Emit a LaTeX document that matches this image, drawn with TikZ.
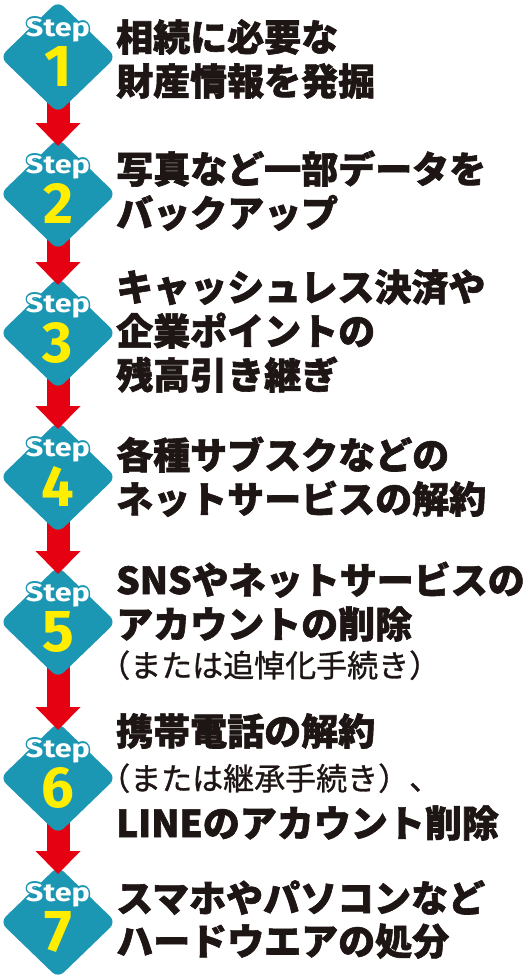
\documentclass[tikz,border=0pt]{standalone}
\usepackage{fontspec}
\usepackage{graphicx}
\usetikzlibrary{shapes.geometric,calc}
\newfontfamily\jp{Noto Sans CJK JP}[BoldFeatures={FakeBold=1.6}]
\newfontfamily\jpsub{Noto Sans CJK JP}[FakeBold=1.0]
\newfontfamily\fira{Fira Sans}
\definecolor{diateal}{RGB}{28,151,179}
\definecolor{arrowred}{RGB}{229,0,18}
\definecolor{numyellow}{RGB}{255,238,0}
\definecolor{ink}{RGB}{30,22,20}
\pgfdeclarelayer{bg}
\pgfsetlayers{bg,main}
\tikzset{
  dia/.style={shape=diamond, fill=diateal, draw=none, minimum width=116pt, minimum height=112pt, inner sep=0pt, rounded corners=8pt},
  steplbl/.style={anchor=base, inner sep=0pt, text=white, font=\fira\bfseries},
  numlbl/.style={anchor=base, inner sep=0pt, text=numyellow, font=\fira\bfseries},
  jtext/.style={anchor=base west, inner sep=0pt, text=ink, font=\jp\bfseries\fontsize{37pt}{44pt}\selectfont},
  jsub/.style={anchor=base west, inner sep=0pt, text=ink, font=\jpsub\fontsize{31pt}{36pt}\selectfont}
}
\newcommand\stepword{\resizebox{64pt}{18pt}{Step}}
\newcommand\shiftedstep[2]{\kern#1\makebox[0pt]{\raisebox{#2}{\stepword}}\kern-#1}
\newcommand\outlinedstep{%
  {\color{diateal}%
   \shiftedstep{1.4pt}{0pt}\shiftedstep{-1.4pt}{0pt}%
   \shiftedstep{0pt}{1.4pt}\shiftedstep{0pt}{-1.4pt}%
   \shiftedstep{1pt}{1pt}\shiftedstep{-1pt}{1pt}%
   \shiftedstep{1pt}{-1pt}\shiftedstep{-1pt}{-1pt}}%
  \makebox[0pt]{\stepword}}
\newcommand\stepdia[2]{%
  \node[dia] (s#1) at (58,#2) {};
  \node[steplbl] (l#1) at ($(s#1.center)+(0,-21)$) {\outlinedstep};
  \node[numlbl] (n#1) at ($(s#1.center)+(0,29)$) {\resizebox{!}{40pt}{#1}};
}
\newcommand\steparrow[2]{%
  \begin{pgfonlayer}{bg}
  \fill[arrowred] ($(s#1.center)+(-11.5,0)$) -- ($(s#2.center)+(-11.5,-70)$) -- ($(s#2.center)+(11.5,-70)$) -- ($(s#1.center)+(11.5,0)$) -- cycle;
  \end{pgfonlayer}
  \fill[arrowred] ($(s#2.center)+(-11.5,-71)$) -- ($(s#2.center)+(-22.5,-71)$) -- ($(s#2.center)+(0,-48)$) -- ($(s#2.center)+(22.5,-71)$) -- ($(s#2.center)+(11.5,-71)$) -- cycle;
}
\begin{document}
\begin{tikzpicture}[x=1pt,y=-1pt]
\begin{pgfonlayer}{bg}
\fill[white] (0,0) rectangle (528,980);
\end{pgfonlayer}
\useasboundingbox (0,0) rectangle (528,980);
\stepdia{1}{57}
\stepdia{2}{194}
\stepdia{3}{333}
\stepdia{4}{477}
\stepdia{5}{622}
\stepdia{6}{778}
\stepdia{7}{922}
\steparrow{1}{2}
\steparrow{2}{3}
\steparrow{3}{4}
\steparrow{4}{5}
\steparrow{5}{6}
\steparrow{6}{7}
% texts
\node[jtext] (t1a) at (116,51) {相続に必要な};
\node[jtext] (t1b) at (116,95) {財産情報を発掘};
\node[jtext] (t2a) at (116,183) {写真など一部データを};
\node[jtext] (t2b) at (116,227) {バックアップ};
\node[jtext] (t3a) at (116,301) {キャッシュレス決済や};
\node[jtext] (t3b) at (116,345) {企業ポイントの};
\node[jtext] (t3c) at (116,389) {残高引き継ぎ};
\node[jtext] (t4a) at (116,469) {各種サブスクなどの};
\node[jtext] (t4b) at (116,513) {ネットサービスの解約};
\node[jtext] (t5a) at (116,594) {SNSやネットサービスの};
\node[jtext] (t5b) at (116,638) {アカウントの削除};
\node[jsub] (t5c) at (99,677) {（または追悼化手続き）};
\node[jtext] (t6a) at (116,745) {携帯電話の解約};
\node[jsub] (t6b) at (99,790) {（または継承手続き）、};
\node[jtext] (t6c) at (116,837) {LINEのアカウント削除};
\node[jtext] (t7a) at (116,912) {スマホやパソコンなど};
\node[jtext] (t7b) at (116,955) {ハードウエアの処分};
\end{tikzpicture}
\end{document}
